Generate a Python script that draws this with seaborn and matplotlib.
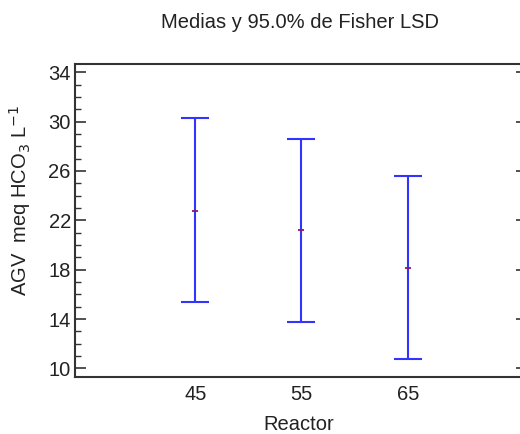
import matplotlib
matplotlib.use("Agg")
import matplotlib.pyplot as plt
import seaborn as sns
import pandas as pd
from matplotlib.ticker import MultipleLocator

reactor = [45, 55, 65]
means = [22.78, 21.22, 18.14]
lower = [15.39, 13.74, 10.77]
upper = [30.27, 28.62, 25.62]
yticks = [10, 14, 18, 22, 26, 30, 34]

df = pd.DataFrame({"Reactor": reactor, "mean": means, "lo": lower, "hi": upper})

sns.set_style("white")
plt.rcParams["font.family"] = ["Liberation Sans", "DejaVu Sans"]

fig = plt.figure(figsize=(5.2, 4.34), dpi=100)
ax = fig.add_axes([75 / 520, (434 - 377) / 434, 448 / 520, (377 - 64) / 434])

blue = "#3333ff"
for _, r in df.iterrows():
    ax.errorbar([r["Reactor"]], [r["mean"]],
                yerr=[[r["mean"] - r["lo"]], [r["hi"] - r["mean"]]],
                fmt="none", ecolor=blue, elinewidth=1.5, capsize=10, capthick=1.5)
sns.scatterplot(data=df, x="Reactor", y="mean", marker="_", s=16, color="#8b1a5a",
                linewidth=1.3, ax=ax, zorder=5, legend=False)

ax.set_xlim(33.68, 75.85)
ax.set_ylim(9.3, 34.67)
ax.set_xticks(reactor)
ax.set_xticklabels([str(v) for v in reactor])
ax.set_yticks(yticks)
ax.yaxis.set_minor_locator(MultipleLocator(1))
ax.tick_params(axis="x", length=0, labelsize=14.5, pad=6, colors="#222222")
ax.tick_params(axis="y", which="major", direction="in", length=8, width=1.2,
               labelsize=14.5, color="#333333", labelcolor="#222222", left=True, pad=3)
ax.tick_params(axis="y", which="minor", direction="in", length=4, width=1.0,
               color="#333333", left=True, right=False)

# short ticks on the right edge
axr = ax.secondary_yaxis("right")
axr.set_yticks(yticks)
axr.tick_params(axis="y", direction="in", length=5, width=1.2, color="#333333",
                labelright=False)
axr.spines["right"].set_visible(False)

for s in ax.spines.values():
    s.set_color("#333333")
    s.set_linewidth(1.5)
    s.set_visible(True)

ax.set_xlabel("Reactor", fontsize=14.5, color="#222222", labelpad=8)
ax.set_ylabel(r"AGV  meq HCO$_3$ L$^{-1}$", fontsize=14.5, color="#222222")
ax.yaxis.set_label_coords(-0.094, 0.565)
fig.text(0.577, 0.948, "Medias y 95.0% de Fisher LSD", ha="center", va="center",
         fontsize=14.5, color="#222222")

fig.savefig("out.png", dpi=100)
